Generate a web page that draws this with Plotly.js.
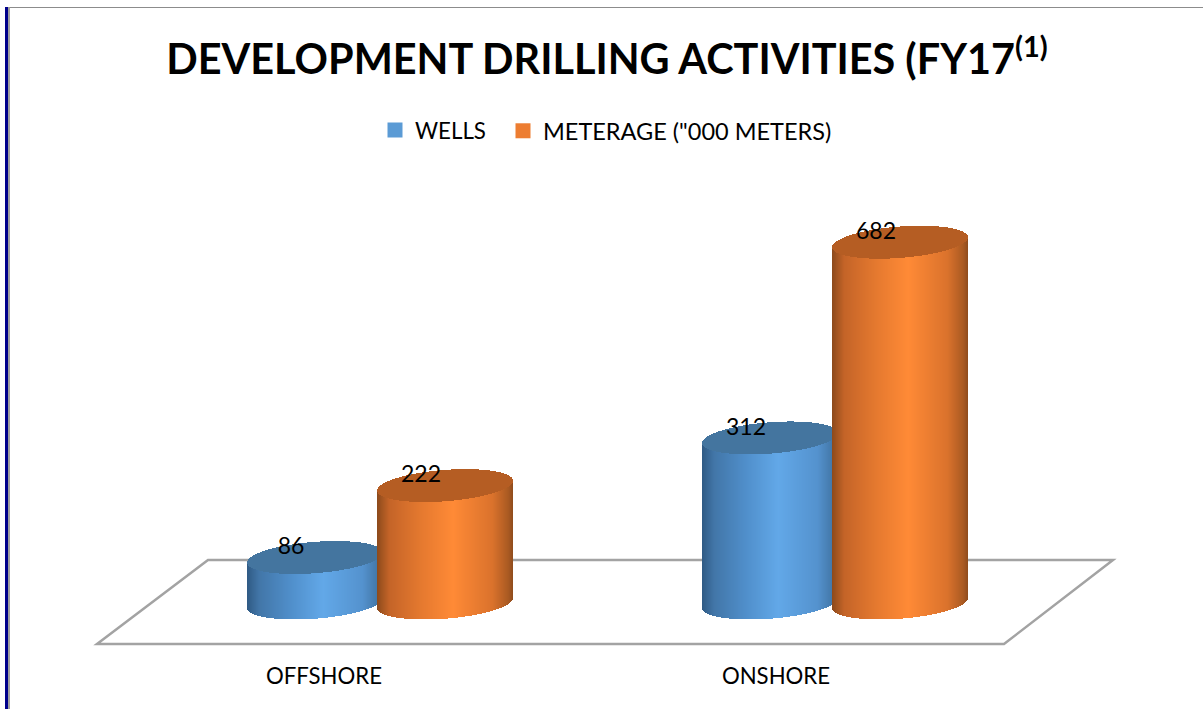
<!DOCTYPE html>
<html>
<head>
<meta charset="utf-8">
<script src="https://cdn.plot.ly/plotly-3.0.1.min.js"></script>
<style>html,body{margin:0;padding:0;background:#fff;overflow:hidden}#chart{width:1203px;height:709px}</style>
</head>
<body>
<div id="chart"></div>
<script>
// ---- data ----
var categories = ["OFFSHORE", "ONSHORE"];
var wells = [86, 312];
var meterage = [222, 682];
var seriesNames = ["WELLS", 'METERAGE ("000 METERS)'];
var chartTitle = "DEVELOPMENT DRILLING ACTIVITIES (FY17<sup>(1)</sup>";

// ---- geometry of the pseudo 3D look ----
var W = 1203, H = 709, B = 48, PH = H - B;
var PX_PER_CAT = 455, GROUP0_PX = 380, ZERO_PX = 603, PX_PER_UNIT = 0.529;
var HALF = 68, SHEAR = 5, RY = 15.7, DX = 65;
var LABEL_DX = -24, LABEL_DY = 9;

function xData(px) { return (px - GROUP0_PX) / PX_PER_CAT; }
function xPaper(px) { return px / W; }
function yPaper(py) { return (PH - py) / PH; }

function mix(stops, t) {
  for (var i = 1; i < stops.length; i++) {
    if (t <= stops[i][0]) {
      var a = stops[i - 1], b = stops[i], f = (t - a[0]) / (b[0] - a[0]);
      var c = [0, 1, 2].map(function (j) { return Math.round(a[1][j] + (b[1][j] - a[1][j]) * f); });
      return "rgba(" + c.join(",") + ",0.999)";
    }
  }
  return "rgba(" + stops[stops.length - 1][1].join(",") + ",0.999)";
}

var blueStops = [[-1, [47, 90, 131]], [-0.82, [66, 118, 168]], [-0.35, [80, 143, 203]], [0.12, [98, 168, 232]], [0.7, [84, 146, 206]], [0.93, [66, 118, 166]], [1.01, [52, 96, 138]]];
var orangeStops = [[-1, [140, 74, 28]], [-0.82, [196, 100, 40]], [-0.35, [229, 121, 47]], [0.12, [255, 138, 54]], [0.7, [218, 114, 44]], [0.93, [170, 90, 34]], [1.01, [138, 74, 28]]];

function cylinder(values, dirPx, stops, capColor) {
  var body = { x: [], y: [], base: [], c: [] }, cap = { x: [], y: [], base: [] };
  values.forEach(function (v, i) {
    var cx = GROUP0_PX + i * PX_PER_CAT + dirPx;
    for (var k = -HALF; k < HALF; k++) {
      var t = (k + 0.5) / HALF;
      var arc = RY * Math.sqrt(1 - t * t) / PX_PER_UNIT;
      var sh = SHEAR * t / PX_PER_UNIT;
      var x = xData(cx + k + 0.5);
      body.x.push(x); body.base.push(sh - arc); body.y.push(v); body.c.push(mix(stops, t));
      cap.x.push(x); cap.base.push(v + sh - arc); cap.y.push(2 * arc);
    }
  });
  var w = 1 / PX_PER_CAT;
  return [
    { type: "bar", x: body.x, y: body.y, base: body.base, width: w, showlegend: false, hoverinfo: "skip",
      marker: { color: body.c, line: { width: 0 } } },
    { type: "bar", x: cap.x, y: cap.y, base: cap.base, width: w, showlegend: false, hoverinfo: "skip",
      marker: { color: capColor, line: { width: 0 } } }
  ];
}

var traces = []
  .concat(cylinder(wells, -DX, blueStops, "rgba(68,117,159,0.999)"))
  .concat(cylinder(meterage, DX, orangeStops, "rgba(181,93,35,0.999)"));

// legend entries
traces.push({ type: "scatter", mode: "markers", x: [null], y: [null], name: seriesNames[0], legend: "legend",
  marker: { color: "#5b9bd5", symbol: "square", size: 15 }, hoverinfo: "skip", showlegend: true });
traces.push({ type: "scatter", mode: "markers", x: [null], y: [null], name: seriesNames[1], legend: "legend2",
  marker: { color: "#ed7d31", symbol: "square", size: 15 }, hoverinfo: "skip", showlegend: true });

// value labels
var labelX = [], labelY = [], labelT = [];
[[wells, -DX], [meterage, DX]].forEach(function (s) {
  s[0].forEach(function (v, i) {
    labelX.push(i + (s[1] + LABEL_DX) / PX_PER_CAT);
    labelY.push(v + LABEL_DY / PX_PER_UNIT);
    labelT.push(String(v));
  });
});
traces.push({ type: "scatter", mode: "text", x: labelX, y: labelY, text: labelT, textposition: "middle center",
  textfont: { family: "Lato, sans-serif", size: 23, color: "#000" }, showlegend: false, hoverinfo: "skip", cliponaxis: false });

var layout = {
  width: W, height: H,
  margin: { l: 0, r: 0, t: 0, b: B, pad: 0 },
  paper_bgcolor: "#fff", plot_bgcolor: "rgba(0,0,0,0)",
  barmode: "overlay", bargap: 0,
  font: { family: "Lato, sans-serif", color: "#000" },
  title: { text: chartTitle, x: 607 / W, xanchor: "center", y: 1 - 60 / H, yanchor: "middle",
           font: { family: "Lato, sans-serif", size: 41.4, color: "#000", weight: 700 } },
  legend: { orientation: "h", x: 375 / W, xanchor: "left", y: yPaper(109), yanchor: "top",
            font: { family: "Lato, sans-serif", size: 22.3, color: "#000" }, itemclick: false, itemdoubleclick: false },
  legend2: { orientation: "h", x: 503 / W, xanchor: "left", y: yPaper(109), yanchor: "top",
            font: { family: "Lato, sans-serif", size: 23.5, color: "#000" }, itemclick: false, itemdoubleclick: false },
  xaxis: { type: "linear", range: [xData(0), xData(W)], tickmode: "array",
           tickvals: [xData(324), xData(776)], ticktext: categories, showgrid: false, zeroline: false, showline: false,
           ticks: "", tickfont: { family: "Lato, sans-serif", size: 22.2, color: "#000" }, fixedrange: true },
  yaxis: { type: "linear", range: [-(PH - ZERO_PX) / PX_PER_UNIT, ZERO_PX / PX_PER_UNIT], visible: false, fixedrange: true },
  shapes: [
    { type: "path", layer: "below", xref: "paper", yref: "paper",
      path: "M " + xPaper(208) + " " + yPaper(560) + " L " + xPaper(1113) + " " + yPaper(560) + " L " + xPaper(1004) + " " + yPaper(644) + " L " + xPaper(97) + " " + yPaper(644) + " Z",
      line: { color: "#a3a3a3", width: 2.5 }, fillcolor: "#fff" },
    { type: "line", layer: "below", xref: "paper", yref: "paper", x0: xPaper(5), x1: xPaper(W), y0: yPaper(7.5), y1: yPaper(7.5), line: { color: "#8c8c8c", width: 1 } },
    { type: "rect", layer: "below", xref: "paper", yref: "paper", x0: xPaper(8), x1: xPaper(10), y0: yPaper(7), y1: yPaper(H), line: { width: 0 }, fillcolor: "#a0a0a0" },
    { type: "rect", layer: "below", xref: "paper", yref: "paper", x0: xPaper(5), x1: xPaper(8), y0: yPaper(7), y1: yPaper(H), line: { width: 0 }, fillcolor: "#00008b" }
  ]
};

Plotly.newPlot("chart", traces, layout, { displayModeBar: false, staticPlot: true });
</script>
</body>
</html>
